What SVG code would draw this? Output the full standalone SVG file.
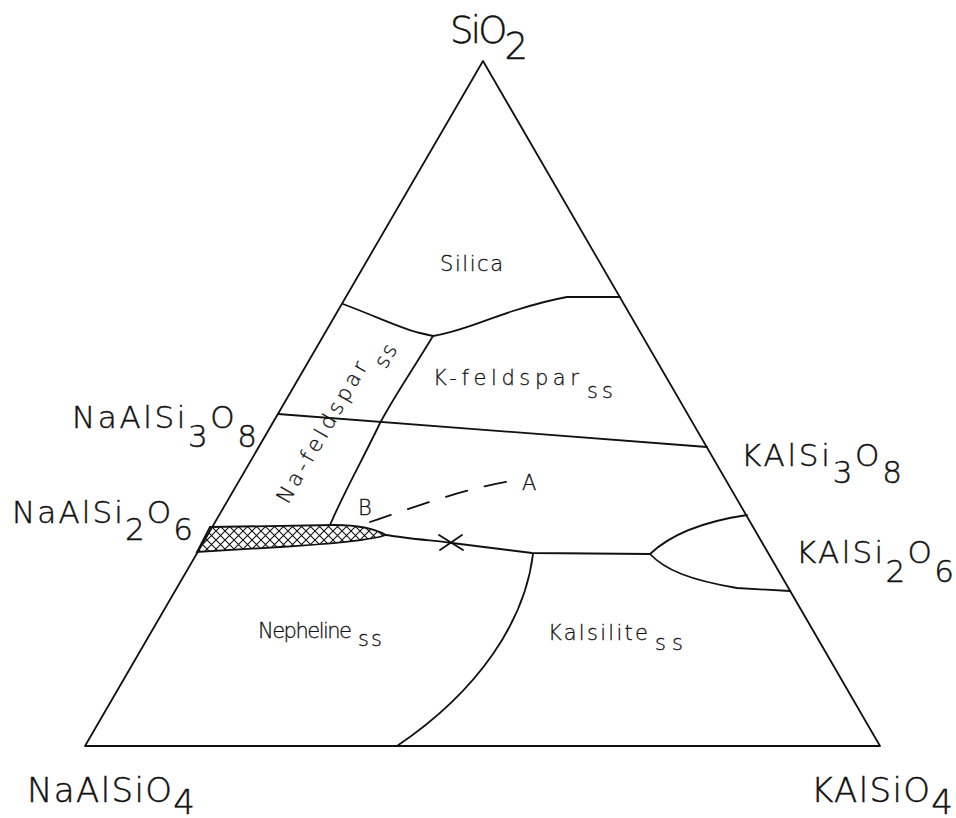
<svg xmlns="http://www.w3.org/2000/svg" width="956" height="818" viewBox="0 0 956 818">
<style>
.ln{fill:none;stroke:#111;stroke-width:1.8;stroke-linejoin:round;stroke-linecap:round}
.t{font-family:"DejaVu Sans","Liberation Sans",sans-serif;font-weight:200;fill:#111;stroke:#111;stroke-width:0.45}
.big{font-size:31px}
.reg{font-size:21px;stroke-width:0.3}
</style>
<defs>
<pattern id="hatch" width="9" height="9" patternUnits="userSpaceOnUse">
<path d="M0,0 L9,9 M9,0 L0,9" stroke="#111" stroke-width="1.1" fill="none"/>
</pattern>
</defs>
<rect width="956" height="818" fill="#fff"/>
<g id="triangle">
<path class="ln" d="M483,61 L85,746 L880,746 Z" stroke-width="2"/>
</g>
<g id="boundaries">
<path class="ln" d="M343,304 C380,318 405,330 420,333 L433,336 C460,332 490,318 513,311 C535,304 550,300 567,297 L620,297"/>
<path class="ln" d="M433,336 C415,366 395,395 380,423 C365,455 345,490 330,525"/>
<path class="ln" d="M278,414 L707,447"/>
<path d="M210,527 L335,525 C360,525 375,529 386,535 C372,540 330,544 280,547 L197,552 Z" fill="url(#hatch)" stroke="#111" stroke-width="1.8"/>
<path class="ln" d="M386,535 C410,539 440,541 452,543 L532,553 L650,554"/>
<path class="ln" d="M650,554 C670,535 700,522 747,515"/>
<path class="ln" d="M650,554 C665,570 690,580 737,588 L790,591"/>
<path class="ln" d="M533,554 C525,620 480,690 397,746"/>
<path class="ln" d="M439,535 L463,550 M440,550 L462,535"/>
<path class="ln" d="M370,522 C420,505 470,487 517,480" stroke-dasharray="22 18"/>
</g>
<g id="labels">
<text class="t" font-size="37" x="450" y="43" textLength="78" lengthAdjust="spacing">SiO<tspan dy="16">2</tspan></text>
<text class="t big" x="72" y="428" textLength="185" lengthAdjust="spacing">NaAlSi<tspan dy="19">3</tspan><tspan dy="-19">O</tspan><tspan dy="19">8</tspan></text>
<text class="t big" x="12" y="523" textLength="181" lengthAdjust="spacing">NaAlSi<tspan dy="17">2</tspan><tspan dy="-17">O</tspan><tspan dy="17">6</tspan></text>
<text class="t big" x="741" y="466" textLength="161" lengthAdjust="spacing">KAlSi<tspan dy="17">3</tspan><tspan dy="-17">O</tspan><tspan dy="17">8</tspan></text>
<text class="t big" x="796" y="563" textLength="158" lengthAdjust="spacing">KAlSi<tspan dy="19">2</tspan><tspan dy="-19">O</tspan><tspan dy="19">6</tspan></text>
<text class="t" font-size="34" x="27" y="802" textLength="168" lengthAdjust="spacing">NaAlSiO<tspan dy="12">4</tspan></text>
<text class="t" font-size="34" x="811" y="802" textLength="142" lengthAdjust="spacing">KAlSiO<tspan dy="12">4</tspan></text>
<text class="t reg" x="440" y="271" textLength="63" lengthAdjust="spacing">Silica</text>
<text class="t reg" x="433" y="385" textLength="146" lengthAdjust="spacing">K-feldspar</text>
<text class="t reg" x="587" y="398" textLength="26" lengthAdjust="spacing">ss</text>
<g transform="translate(288,505) rotate(-60)">
<text class="t reg" x="0" y="0" textLength="160" lengthAdjust="spacing">Na-feldspar</text>
<text class="t reg" x="166" y="17" textLength="24" lengthAdjust="spacing">ss</text>
</g>
<text class="t reg" x="258" y="638" textLength="94" lengthAdjust="spacing">Nepheline</text>
<text class="t reg" x="358" y="646" textLength="24" lengthAdjust="spacing">ss</text>
<text class="t reg" x="548" y="640" textLength="100" lengthAdjust="spacing">Kalsilite</text>
<text class="t reg" x="655" y="650" textLength="28" lengthAdjust="spacing">ss</text>
<text class="t reg" font-size="22" x="358" y="515">B</text>
<text class="t reg" x="522" y="490">A</text>
</g>
</svg>
